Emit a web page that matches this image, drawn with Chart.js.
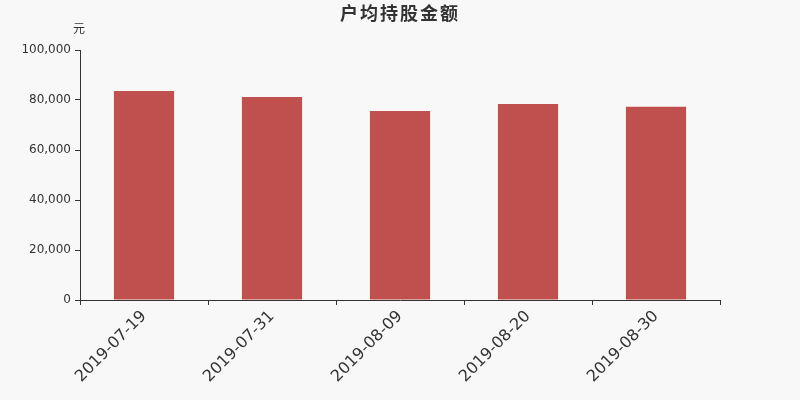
<!DOCTYPE html>
<html>
<head>
<meta charset="utf-8">
<script src="https://cdn.jsdelivr.net/npm/chart.js@4/dist/chart.umd.min.js"></script>
<style>
  html, body { margin: 0; padding: 0; background: #f8f8f8; }
  #wrap { width: 800px; height: 400px; }
</style>
</head>
<body>
<div id="wrap"><canvas id="chart"></canvas></div>
<script>
const dates = ["2019-07-19", "2019-07-31", "2019-08-09", "2019-08-20", "2019-08-30"];
const amounts = [83600, 81200, 75600, 78400, 77300];
const yTicks = [0, 20000, 40000, 60000, 80000, 100000];
const chartTitle = "户均持股金额";
const unitLabel = "元";

const textColor = "#333333";
const font = "'DejaVu Sans', 'Noto Sans CJK SC', sans-serif";

// title and unit label drawn on top
const headerPlugin = {
    id: "header",
    afterDraw(chart) {
        const ctx = chart.ctx;
        ctx.save();
        ctx.fillStyle = textColor;
        ctx.textAlign = "center";
        ctx.textBaseline = "middle";
        ctx.font = "bold 18px 'Noto Sans CJK SC', sans-serif";
        if ("letterSpacing" in ctx) ctx.letterSpacing = "2px";
        ctx.fillText(chartTitle, 400, 13);
        if ("letterSpacing" in ctx) ctx.letterSpacing = "0px";
        ctx.font = "12px 'Noto Sans CJK SC', sans-serif";
        ctx.fillText(unitLabel, chart.scales.y.left + 79, 28);
        ctx.restore();
    }
};

const bgPlugin = {
    id: "bg",
    beforeDraw(chart) {
        const ctx = chart.ctx;
        ctx.save();
        ctx.fillStyle = "#f8f8f8";
        ctx.fillRect(0, 0, chart.width, chart.height);
        ctx.restore();
    }
};

new Chart(document.getElementById("chart").getContext("2d"), {
    type: "bar",
    data: {
        labels: dates,
        datasets: [{
            data: amounts,
            backgroundColor: "#c0504d",
            categoryPercentage: 1,
            barPercentage: 0.47
        }]
    },
    options: {
        responsive: true,
        maintainAspectRatio: false,
        animation: false,
        devicePixelRatio: 1,
        layout: { padding: { top: 50, right: 80, left: 0, bottom: 0 } },
        plugins: {
            legend: { display: false },
            tooltip: { enabled: false }
        },
        scales: {
            x: {
                afterFit(scale) { scale.height = 100; },
                border: { color: textColor, width: 1 },
                grid: {
                    offset: true,
                    drawOnChartArea: false,
                    drawTicks: true,
                    tickLength: 5,
                    color: textColor
                },
                ticks: {
                    color: textColor,
                    font: { family: font, size: 16 },
                    minRotation: 45,
                    maxRotation: 45,
                    padding: 2
                }
            },
            y: {
                min: 0,
                max: 100000,
                afterFit(scale) { scale.width = 80; },
                afterBuildTicks(scale) { scale.ticks = yTicks.map(v => ({ value: v })); },
                border: { color: textColor, width: 1 },
                grid: {
                    drawOnChartArea: false,
                    drawTicks: true,
                    tickLength: 5,
                    color: textColor
                },
                ticks: {
                    color: textColor,
                    font: { family: font, size: 12 },
                    padding: 4,
                    callback: v => v.toLocaleString("en-US")
                }
            }
        }
    },
    plugins: [bgPlugin, headerPlugin]
});
</script>
</body>
</html>
